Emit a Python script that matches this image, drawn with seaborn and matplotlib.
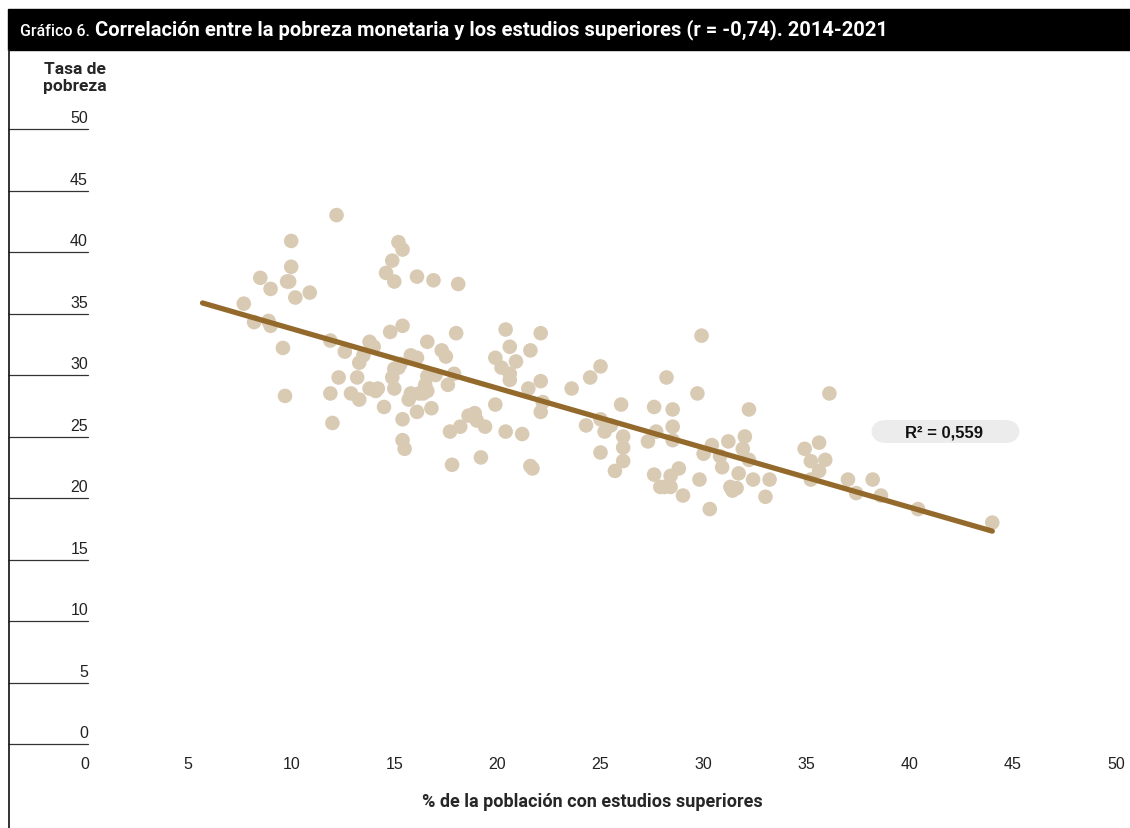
## Importing libraries
import numpy as np
import pandas as pd
import matplotlib.pyplot as plt
import matplotlib.transforms as mtransforms
from matplotlib.patches import FancyBboxPatch, Rectangle
import seaborn as sns

## Data (% population with higher education vs poverty rate)
estudios = [7.7, 8.2, 8.5, 8.9, 9.0, 9.0, 9.6, 9.7, 9.8, 9.9, 10.0, 10.0, 10.2, 10.9,
            12.2, 11.9, 11.9, 12.0, 12.3, 12.6, 12.9, 13.2, 13.3, 13.3, 13.5, 13.8, 14.0,
            13.8, 14.2, 14.1, 14.5, 14.6, 14.8, 14.9, 14.9, 15.0, 15.2, 15.0, 15.0, 15.2,
            15.4, 15.3, 15.4, 15.4, 15.4, 15.5, 15.7, 15.8, 15.8, 16.1, 16.1, 16.2, 16.1,
            16.4, 16.5, 16.6, 16.6, 16.6, 16.9, 16.8, 17.0, 17.3, 17.5, 17.6, 17.7, 17.8,
            17.9, 18.0, 18.1, 18.2, 18.6, 18.9, 19.0, 19.2, 19.4, 19.9, 19.9, 20.2, 20.4,
            20.4, 20.6, 20.6, 20.6, 20.9, 21.2, 21.5, 21.6, 21.6, 21.7, 22.1, 22.1, 22.1,
            22.2, 23.6, 24.3, 24.5, 25.0, 25.0, 25.0, 25.2, 25.5, 25.7, 26.0, 26.1, 26.1,
            26.1, 27.3, 27.6, 27.6, 27.7, 27.9, 28.1, 28.2, 28.4, 28.4, 28.5, 28.5, 28.5,
            28.8, 29.0, 29.7, 29.8, 29.9, 30.0, 30.3, 30.4, 30.8, 30.9, 31.2, 31.3, 31.4,
            31.6, 31.7, 31.9, 32.0, 32.2, 32.2, 32.4, 33.0, 33.2, 34.9, 35.2, 35.2, 35.6,
            35.6, 35.9, 36.1, 37.0, 37.4, 38.2, 38.6, 40.4, 44.0]
pobreza = [35.8, 34.3, 37.9, 34.4, 37.0, 34.0, 32.2, 28.3, 37.6, 37.6, 40.9, 38.8, 36.3, 36.7,
           43.0, 32.8, 28.5, 26.1, 29.8, 31.9, 28.5, 29.8, 31.0, 28.0, 31.6, 32.7, 32.3,
           28.9, 28.9, 28.7, 27.4, 38.3, 33.5, 29.8, 39.3, 30.5, 30.6, 37.6, 28.9, 40.8,
           40.2, 30.9, 34.0, 26.4, 24.7, 24.0, 28.0, 28.5, 31.6, 38.0, 31.4, 28.5, 27.0,
           28.5, 29.2, 29.9, 28.7, 32.7, 37.7, 27.3, 30.0, 32.0, 31.5, 29.2, 25.4, 22.7,
           30.1, 33.4, 37.4, 25.8, 26.7, 26.9, 26.3, 23.3, 25.8, 31.4, 27.6, 30.6, 25.4,
           33.7, 32.3, 29.6, 30.1, 31.1, 25.2, 28.9, 32.0, 22.6, 22.4, 33.4, 29.5, 27.0,
           27.8, 28.9, 25.9, 29.8, 30.7, 26.4, 23.7, 25.4, 25.9, 22.2, 27.6, 25.0, 24.1,
           23.0, 24.6, 27.4, 21.9, 25.4, 20.9, 20.9, 29.8, 20.9, 21.8, 27.2, 25.8, 24.7,
           22.4, 20.2, 28.5, 21.5, 33.2, 23.6, 19.1, 24.3, 23.4, 22.5, 24.6, 20.9, 20.6,
           20.8, 22.0, 24.0, 25.0, 27.2, 23.1, 21.5, 20.1, 21.5, 24.0, 23.0, 21.5, 24.5,
           22.2, 23.1, 28.5, 21.5, 20.4, 21.5, 20.2, 19.1, 18.0]
x_ticks = [0, 5, 10, 15, 20, 25, 30, 35, 40, 45, 50]
y_ticks = [0, 5, 10, 15, 20, 25, 30, 35, 40, 45, 50]
line_range = [5.7, 44.0]
r2_text = "R² = 0,559"

df = pd.DataFrame({'estudios': estudios, 'pobreza': pobreza})

## Linear fit for the trend line
slope, intercept = np.polyfit(df['estudios'], df['pobreza'], 1)
fit = pd.DataFrame({'x': line_range})
fit['y'] = intercept + slope * fit['x']

## Figure
sns.set_style("white")
plt.rcParams['font.family'] = ['Liberation Sans', 'DejaVu Sans']
fig = plt.figure(figsize=(11.3, 8.29), dpi=100)
ax = fig.add_axes([85 / 1130, 84 / 829, 1031 / 1130, 615 / 829])

sns.scatterplot(data=df, x='estudios', y='pobreza', ax=ax, s=110,
                color='#d9cab3', edgecolor='none', alpha=1, zorder=2)
sns.lineplot(data=fit, x='x', y='y', ax=ax, color='#946a2c', lw=3.8,
             solid_capstyle='round', zorder=3)

ax.set_xlim(0, 50)
ax.set_ylim(0, 50)
for s in ax.spines.values():
    s.set_visible(False)
ax.set_xticks(x_ticks)
ax.set_xticklabels([str(v) for v in x_ticks], fontsize=11.5, color='#222222')
ax.tick_params(axis='x', length=0, pad=9)
ax.set_yticks([])
ax.set_xlabel('')
ax.set_ylabel('')

## y axis: short horizontal rules left of the plot, labels sitting above them
trans = mtransforms.blended_transform_factory(ax.transAxes, ax.transData)
for v in y_ticks:
    ax.plot([-77 / 1031, 3 / 1031], [v, v], transform=trans, color='#333333',
            lw=0.9, clip_on=False)
    ax.text(3 / 1031, v + 0.3, str(v), transform=trans, ha='right', va='bottom',
            fontsize=11.5, color='#222222')

## Title bar and left border
fig.patches.append(Rectangle((8 / 1130, 1 - 51 / 829), 1 - 8 / 1130, 41 / 829,
                             transform=fig.transFigure, color='black', zorder=0))
fig.add_artist(plt.Line2D([8.5 / 1130, 8.5 / 1130], [0, 1 - 51 / 829],
                          color='#222222', lw=1.3))
t1 = fig.text(20 / 1130, 1 - 32 / 829, 'Gráfico 6.', color='white', fontsize=11.5,
              family='Roboto', weight='medium', va='center', ha='left')
fig.add_artist(plt.Annotation(' Correlación entre la pobreza monetaria y los estudios superiores (r = -0,74). 2014-2021',
                              xy=(1, 0), xycoords=t1, va='bottom', ha='left',
                              color='white', fontsize=14.5, family='Roboto', weight='bold'))

## axis titles
fig.text(75 / 1130, 1 - 78 / 829, 'Tasa de\npobreza', ha='center', va='center',
         fontsize=12.5, weight='bold', family='Roboto', linespacing=1.25)
fig.text(592 / 1130, 1 - 802 / 829, '% de la población con estudios superiores',
         ha='center', va='center', fontsize=13, weight='bold', family='Roboto')

## R² label
box = FancyBboxPatch((871 / 1130, 1 - 444 / 829), 149 / 1130, 23 / 829,
                     boxstyle='round,pad=0,rounding_size=0.0135',
                     transform=fig.transFigure, facecolor='#ececec', edgecolor='none',
                     mutation_aspect=1130 / 829)
fig.patches.append(box)
fig.text(944 / 1130, 1 - 433 / 829, r2_text, ha='center', va='center',
         fontsize=12, weight='bold', color='#111111')

fig.savefig('out.png', dpi=100)
